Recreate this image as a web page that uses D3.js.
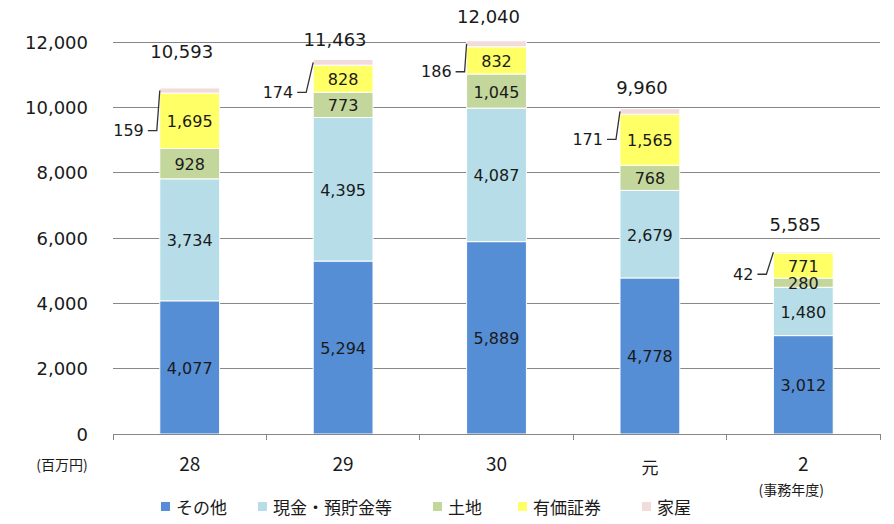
<!DOCTYPE html>
<html><head><meta charset="utf-8">
<script src="https://cdn.jsdelivr.net/npm/d3@7/dist/d3.min.js"></script>
<style>body{margin:0;background:#fff;}svg{display:block;}</style>
</head><body>
<svg id="chart" width="894" height="524"></svg>
<script>
const categories = ["28", "29", "30", "元", "2"];
const seriesNames = ["その他", "現金・預貯金等", "土地", "有価証券", "家屋"];
const other = [4077, 5294, 5889, 4778, 3012];
const cash = [3734, 4395, 4087, 2679, 1480];
const land = [928, 773, 1045, 768, 280];
const securities = [1695, 828, 832, 1565, 771];
const house = [159, 174, 186, 171, 42];
const totals = [10593, 11463, 12040, 9960, 5585];
const yTicks = [0, 2000, 4000, 6000, 8000, 10000, 12000];

const colors = ["#558ED5", "#B7DEE8", "#C3D69B", "#FFFF66", "#F2DCDB"];
// layout nudges for hand-placed labels
const totalLift = [36, 20, 24, 21, 27];
const leaderDrop = [40, 30, 28, 28, 22];
const kneeDx = [-3, -7, -2, -4, -7];
const legendX = [161, 258, 433, 518, 642];

const svg = d3.select("#chart");
const numFont = "'DejaVu Sans', Verdana, sans-serif";
const cjkFont = "'Noto Sans CJK JP', sans-serif";
const fmt = d3.format(",");

const x = d3.scaleBand().domain(categories).range([113, 880]).paddingInner(0.61).paddingOuter(0.305);
const y = d3.scaleLinear().domain([0, 12000]).range([434, 42]);

const rows = categories.map((c, i) => ({cat: c, s0: other[i], s1: cash[i], s2: land[i], s3: securities[i], s4: house[i]}));
const stack = d3.stack().keys(["s0", "s1", "s2", "s3", "s4"])(rows);

// gridlines
svg.append("g").selectAll("line").data(yTicks.filter(d => d > 0)).join("line")
  .attr("x1", 113).attr("x2", 880)
  .attr("y1", d => y(d)).attr("y2", d => y(d))
  .attr("stroke", "#878787").attr("stroke-width", 1).attr("shape-rendering", "crispEdges");

// y tick labels
svg.append("g").selectAll("text").data(yTicks).join("text")
  .attr("x", 88).attr("y", d => y(d)).attr("text-anchor", "end").attr("dominant-baseline", "central")
  .attr("font-family", numFont).attr("font-size", 18).attr("fill", "#1a1a1a")
  .text(d => fmt(d));

// bars
const layers = svg.append("g").selectAll("g").data(stack).join("g").attr("fill", (d, i) => colors[i]);
layers.selectAll("rect").data(d => d).join("rect")
  .attr("x", d => x(d.data.cat)).attr("width", x.bandwidth())
  .attr("y", d => y(d[1])).attr("height", d => y(d[0]) - y(d[1]))
  .attr("stroke", "#fff").attr("stroke-width", 1);

// inner labels (all but house)
stack.slice(0, 4).forEach((layer, li) => {
  svg.append("g").selectAll("text").data(layer).join("text")
    .attr("x", d => x(d.data.cat) + x.bandwidth() / 2)
    .attr("y", d => (y(d[0]) + y(d[1])) / 2 + 1)
    .attr("text-anchor", "middle").attr("dominant-baseline", "central")
    .attr("font-family", numFont).attr("font-size", 16).attr("fill", "#1a1a1a")
    .text(d => fmt(d[1] - d[0]));
});

// total labels
svg.append("g").selectAll("text").data(stack[4]).join("text")
  .attr("x", d => x(d.data.cat) + x.bandwidth() / 2 - 8)
  .attr("y", (d, i) => y(d[1]) - totalLift[i])
  .attr("text-anchor", "middle").attr("dominant-baseline", "central")
  .attr("font-family", numFont).attr("font-size", 18).attr("fill", "#1a1a1a")
  .text((d, i) => fmt(totals[i]));

// house leader labels
stack[4].forEach((d, i) => {
  const bx = x(d.data.cat);
  const cy = (y(d[0]) + y(d[1])) / 2;
  const ly = cy + leaderDrop[i];
  const kx = bx + kneeDx[i];
  svg.append("path")
    .attr("d", `M${kx - 9},${ly} L${kx},${ly} L${bx},${cy}`)
    .attr("fill", "none").attr("stroke", "#333").attr("stroke-width", 1.3);
  svg.append("text")
    .attr("x", kx - 13).attr("y", ly).attr("text-anchor", "end").attr("dominant-baseline", "central")
    .attr("font-family", numFont).attr("font-size", 16).attr("fill", "#1a1a1a")
    .text(fmt(d[1] - d[0]));
});

// baseline axis with tick marks
svg.append("line").attr("x1", 113).attr("x2", 880).attr("y1", y(0)).attr("y2", y(0))
  .attr("stroke", "#878787").attr("shape-rendering", "crispEdges");
const tickXs = categories.map((c, i) => x.range()[0] + i * x.step()).concat([x.range()[1]]);
svg.append("g").selectAll("line").data(tickXs).join("line")
  .attr("x1", d => d).attr("x2", d => d).attr("y1", y(0)).attr("y2", y(0) + 6)
  .attr("stroke", "#878787").attr("shape-rendering", "crispEdges");

// category labels
svg.append("g").selectAll("text").data(categories).join("text")
  .attr("x", d => x(d) + x.bandwidth() / 2)
  .attr("y", d => d === "元" ? 466 : 462)
  .attr("text-anchor", "middle").attr("dominant-baseline", "central")
  .attr("font-family", cjkFont).attr("font-size", d => d === "元" ? 17 : 19).attr("fill", "#1a1a1a")
  .text(d => d);

svg.append("text").attr("x", 62).attr("y", 464).attr("text-anchor", "middle").attr("dominant-baseline", "central")
  .attr("font-family", cjkFont).attr("font-size", 14).attr("fill", "#1a1a1a").text("(百万円)");
svg.append("text").attr("x", x("2") + x.bandwidth() / 2 - 12).attr("y", 489).attr("text-anchor", "middle").attr("dominant-baseline", "central")
  .attr("font-family", cjkFont).attr("font-size", 14).attr("fill", "#1a1a1a").text("(事務年度)");

// legend
const lg = svg.append("g");
seriesNames.forEach((name, i) => {
  const lx = legendX[i];
  lg.append("rect").attr("x", lx).attr("y", 502).attr("width", 9).attr("height", 9).attr("fill", colors[i]);
  lg.append("text").attr("x", lx + 15).attr("y", 506).attr("dominant-baseline", "central")
    .attr("font-family", cjkFont).attr("font-size", 17).attr("fill", "#1a1a1a").text(name);
});
</script>
</body></html>
